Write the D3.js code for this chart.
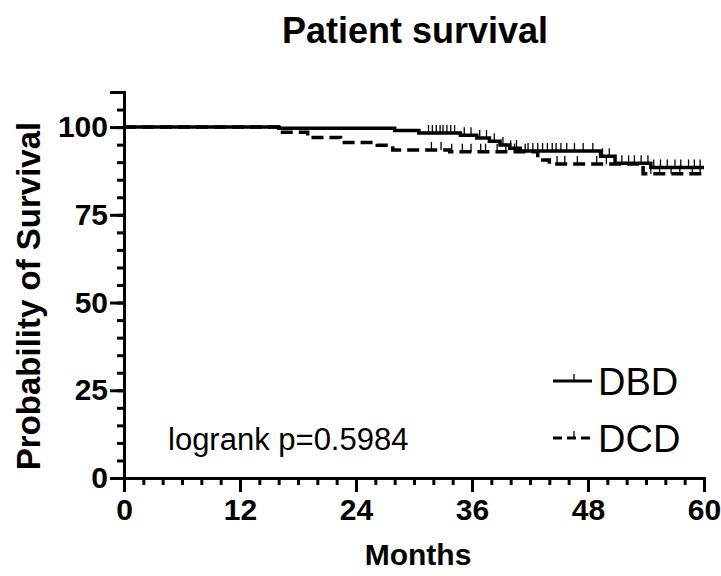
<!DOCTYPE html>
<html>
<head>
<meta charset="utf-8">
<script src="https://cdn.jsdelivr.net/npm/d3@7"></script>
<style>
  body { margin: 0; background: #fff; }
  svg { font-family: "Liberation Sans", Arial, sans-serif; }
</style>
</head>
<body>
<svg width="721" height="576"></svg>
<script>
// survival steps: [month, survival % after event]
const dbdSteps = [[0, 100], [16.0, 99.7], [28.0, 99.0], [30.5, 98.3], [34.8, 97.7], [36.5, 96.9],
  [37.8, 96.0], [38.9, 94.9], [39.9, 94.0], [41.0, 93.2], [49.3, 91.7], [50.8, 89.7], [54.5, 88.5]];
const dcdSteps = [[0, 100], [16.0, 98.5], [19.0, 97.0], [22.4, 95.6], [26.2, 94.8], [27.8, 93.5],
  [33.7, 93.0], [42.8, 90.6], [44.0, 89.5], [53.7, 86.7]];

// censored times (months)
const dbdCensor = [31.5, 31.9, 32.3, 32.7, 33.0, 33.4, 33.8, 34.2, 35.2, 35.9, 36.8, 37.5, 38.3, 39.2,
  40.0, 40.6, 41.8, 42.3, 42.8, 43.3, 43.8, 44.3, 44.7, 45.2, 45.8, 46.6, 47.5, 48.5, 49.5, 50.2,
  51.5, 52.2, 52.8, 53.5, 54.2, 54.8, 55.5, 56.2, 57.0, 57.6, 58.4, 59.0, 59.6];
const dcdCensor = [31.8, 32.8, 33.9, 35.0, 35.9, 36.9, 37.4, 38.6, 39.5, 40.4, 41.5, 44.8, 45.6,
  46.9, 48.9, 49.9, 50.8, 54.5, 55.4, 56.6, 57.5, 58.8, 59.6];

const xTicks = [0, 12, 24, 36, 48, 60];
const yTicks = [0, 25, 50, 75, 100];
const groups = ["DBD", "DCD"];

const svg = d3.select("svg");
const x = d3.scaleLinear().domain([0, 60]).range([124, 704]);
const y = d3.scaleLinear().domain([0, 110]).range([478, 92]);

// survival value at time t
function survAt(steps, t) {
  let s = 100;
  steps.forEach(d => { if (d[0] <= t) s = d[1]; });
  return s;
}

// Titel
svg.append("text")
  .attr("x", 415).attr("y", 43)
  .attr("text-anchor", "middle")
  .style("font-size", "36px").style("font-weight", "bold")
  .text("Patient survival");

const tickFont = g => g.attr("font-family", null).attr("font-size", null)
  .selectAll("text").style("font-size", "30px").style("font-weight", "bold");

// X axis (minor + major)
svg.append("g").attr("transform", "translate(0,478)")
  .call(d3.axisBottom(x).tickValues(d3.range(0, 61, 2)).tickSize(7).tickFormat(""));
svg.append("g").attr("transform", "translate(0,478)")
  .call(d3.axisBottom(x).tickValues(xTicks).tickSize(14).tickPadding(7))
  .call(tickFont);

// Y axis (minor + major)
svg.append("g").attr("transform", "translate(124,0)")
  .call(d3.axisLeft(y).tickValues(d3.range(0, 111, 5)).tickSize(7).tickFormat(""));
svg.append("g").attr("transform", "translate(124,0)")
  .call(d3.axisLeft(y).tickValues(yTicks).tickSize(14).tickPadding(2))
  .call(tickFont);

svg.selectAll(".domain").attr("stroke-width", 3);
svg.selectAll(".tick line").attr("stroke-width", 3);

// axis labels
svg.append("text")
  .attr("x", 418).attr("y", 565)
  .attr("text-anchor", "middle")
  .style("font-size", "30px").style("font-weight", "bold")
  .text("Months");
svg.append("text")
  .attr("transform", "translate(40,296) rotate(-90)")
  .attr("text-anchor", "middle")
  .style("font-size", "33px").style("font-weight", "bold")
  .text("Probability of Survival");

// curves
const line = d3.line().x(d => x(d[0])).y(d => y(d[1])).curve(d3.curveStepAfter);
function drawCurve(steps, censor, dash) {
  const pts = steps.concat([[60, steps[steps.length - 1][1]]]);
  svg.append("path").datum(pts)
    .attr("d", line)
    .attr("fill", "none").attr("stroke", "#000").attr("stroke-width", 3.5)
    .attr("stroke-dasharray", dash);
  svg.append("g").selectAll("line")
    .data(censor)
    .join("line")
    .attr("x1", d => x(d)).attr("x2", d => x(d))
    .attr("y1", d => y(survAt(steps, d)))
    .attr("y2", d => y(survAt(steps, d)) - 8)
    .attr("stroke", "#000").attr("stroke-width", 1.3);
}
drawCurve(dbdSteps, dbdCensor, null);
drawCurve(dcdSteps, dcdCensor, "12,6");

// legend
const leg = svg.append("g");
groups.forEach((g, i) => {
  const ly = 381 + i * 57;
  leg.append("line")
    .attr("x1", 553).attr("x2", 592).attr("y1", ly).attr("y2", ly)
    .attr("stroke", "#000").attr("stroke-width", 3)
    .attr("stroke-dasharray", i ? "9,5" : null);
  leg.append("line")
    .attr("x1", 574).attr("x2", 574).attr("y1", ly).attr("y2", ly - 7)
    .attr("stroke", "#000").attr("stroke-width", 1.3);
  leg.append("text")
    .attr("x", 598).attr("y", ly + 14)
    .style("font-size", "38px")
    .text(g);
});

// logrank
svg.append("text")
  .attr("x", 168).attr("y", 450)
  .style("font-size", "31px")
  .text("logrank p=0.5984");
</script>
</body>
</html>
